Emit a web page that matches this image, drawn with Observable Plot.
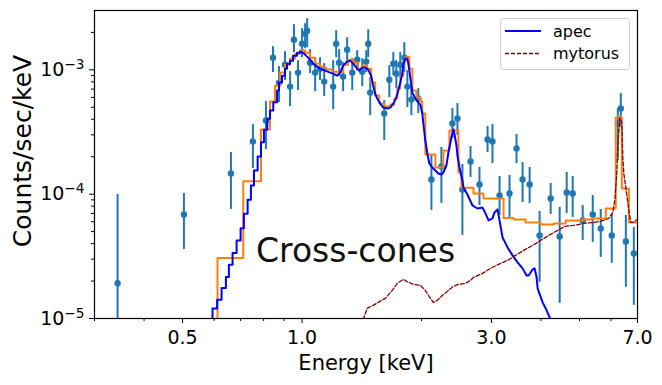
<!DOCTYPE html>
<html><head><meta charset="utf-8">
<script src="https://cdn.jsdelivr.net/npm/d3@7"></script>
<script src="https://cdn.jsdelivr.net/npm/@observablehq/plot@0.6"></script>
<style>
body{margin:0;background:#fff;}
#wrap{position:relative;width:662px;height:385px;}
</style></head>
<body><div id="wrap"></div>
<script>
// ---- data points with error bars (Energy keV, counts/sec/keV) ----
const dataE = [0.343,0.504,0.662,0.752,0.811,0.845,0.875,0.906,0.933,0.954,0.977,1.000,1.018,1.030,1.048,1.079,1.110,1.137,1.198,1.219,1.240,1.269,1.299,1.338,1.377,1.418,1.451,1.468,1.485,1.611,1.659,1.698,1.728,1.768,1.810,1.842,1.885,1.963,2.118,2.244,2.392,2.463,2.535,2.657,2.799,2.933,3.018,3.145,3.332,3.470,3.594,3.744,3.967,4.230,4.457,4.642,4.806,5.094,5.399,5.656,6.030,6.245,6.353,6.543,6.853];
const dataV = [1.92e-5,6.87e-5,1.466e-4,2.65e-4,3.91e-4,1.253e-3,7.89e-4,1.101e-3,7.33e-4,1.748e-3,9.50e-4,1.623e-3,1.954e-3,2.064e-3,1.142e-3,9.50e-4,1.022e-3,8.04e-4,7.33e-4,1.623e-3,1.142e-3,8.82e-4,1.453e-3,9.50e-4,1.207e-3,9.67e-4,1.164e-3,1.623e-3,6.56e-4,4.45e-4,8.34e-4,1.121e-3,9.32e-4,1.101e-3,1.253e-3,7.33e-4,5.76e-4,5.87e-4,1.312e-4,1.669e-4,3.70e-4,4.06e-4,1.091e-4,1.831e-4,1.197e-4,2.75e-4,2.65e-4,9.76e-5,1.013e-4,2.33e-4,1.312e-4,1.197e-4,4.66e-5,9.24e-5,4.57e-5,1.032e-4,1.013e-4,6.15e-5,6.87e-5,5.30e-5,4.66e-5,3.70e-4,4.88e-4,4.17e-5,3.34e-5];
const dataLo = [5e-6,3.59e-5,7.54e-5,1.608e-4,2.286e-4,9.50e-4,5.45e-4,8.19e-4,5.06e-4,1.375e-3,6.81e-4,1.253e-3,1.48e-3,1.508e-3,9.32e-4,6.68e-4,8.19e-4,6.09e-4,4.79e-4,1.253e-3,8.82e-4,6.68e-4,1.121e-3,6.81e-4,9.85e-4,7.33e-4,9.50e-4,1.253e-3,4.29e-4,2.70e-4,5.98e-4,8.98e-4,7.06e-4,8.50e-4,9.50e-4,4.97e-4,4.29e-4,4.45e-4,7.40e-5,8.42e-5,2.80e-4,2.96e-4,4.66e-5,1.362e-4,8.11e-5,2.163e-4,1.764e-4,6.75e-5,6.50e-5,1.764e-4,8.58e-5,8.42e-5,1.953e-5,6.87e-5,1.325e-5,7.00e-5,6.50e-5,4.25e-5,4.09e-5,3.10e-5,2.78e-5,1.866e-4,3.43e-4,1.781e-5,1.276e-5];
const dataHi = [9.94e-5,1.013e-4,2.163e-4,3.63e-4,5.55e-4,1.536e-3,1.061e-3,1.40e-3,9.67e-4,2.307e-3,1.185e-3,2.143e-3,2.35e-3,2.578e-3,1.453e-3,1.253e-3,1.253e-3,1.121e-3,1.185e-3,2.064e-3,1.453e-3,1.142e-3,1.814e-3,1.230e-3,1.427e-3,1.230e-3,1.427e-3,2.103e-3,8.66e-4,5.66e-4,1.081e-3,1.375e-3,1.185e-3,1.375e-3,1.654e-3,9.85e-4,7.46e-4,7.06e-4,2.046e-4,2.372e-4,4.88e-4,5.35e-4,1.732e-4,2.416e-4,1.638e-4,3.50e-4,3.63e-4,1.387e-4,1.413e-4,3.02e-4,1.797e-4,1.638e-4,7.26e-5,1.219e-4,7.82e-5,1.494e-4,1.387e-4,8.11e-5,9.76e-5,7.54e-5,6.87e-5,4.88e-4,6.44e-4,6.75e-5,5.40e-5];

// ---- apec model (blue) ----
const apecE = [0.5812,0.5949,0.6110,0.6270,0.6429,0.6542,0.6683,0.6841,0.7002,0.7137,0.7293,0.7434,0.7565,0.7729,0.7880,0.8017,0.8173,0.8302,0.8463,0.8649,0.8748,0.8902,0.9059,0.9165,0.9326,0.9490,0.9714,0.9884,1.0058,1.0235,1.0416,1.0661,1.0912,1.1104,1.1432,1.1769,1.1977,1.2259,1.2474,1.2691,1.2990,1.3219,1.3452,1.3762,1.3922,1.4168,1.4419,1.4674,1.4930,1.5107,1.5282,1.5463,1.5740,1.6016,1.6393,1.6683,1.6977,1.7277,1.7477,1.7684,1.7889,1.7996,1.8204,1.8419,1.8526,1.8740,1.8962,1.9297,1.9634,1.9861,2.0091,2.0211,2.0444,2.0686,2.0925,2.1295,2.1671,2.2049,2.2439,2.2704,2.3101,2.3373,2.3786,2.4064,2.4203,2.4489,2.4630,2.4921,2.5350,2.5501,2.6102,2.6870,2.7662,2.8478,2.8981,2.9493,3.0185,3.0535,3.1075,3.1442,3.1997,3.2940,3.3910,3.4910,3.5946,3.6794,3.7219,3.8094,3.8544,3.8990,3.9215,4.0370,4.1320,4.2045,4.2787];
const apecV = [8.04e-6,1.201e-5,1.418e-5,1.758e-5,2.154e-5,2.71e-5,3.357e-5,4.246e-5,5.33e-5,6.96e-5,9.02e-5,1.174e-4,1.550e-4,2.009e-4,2.616e-4,3.291e-4,4.034e-4,4.703e-4,5.48e-4,6.81e-4,7.89e-4,8.98e-4,1.022e-3,1.121e-3,1.185e-3,1.300e-3,1.375e-3,1.400e-3,1.375e-3,1.300e-3,1.230e-3,1.121e-3,1.061e-3,1.022e-3,9.85e-4,9.50e-4,9.32e-4,8.98e-4,9.50e-4,1.081e-3,1.164e-3,1.185e-3,1.121e-3,1.022e-3,9.85e-4,1.042e-3,1.042e-3,1.004e-3,8.98e-4,7.46e-4,6.44e-4,5.87e-4,5.35e-4,4.97e-4,4.88e-4,4.97e-4,5.35e-4,5.98e-4,6.81e-4,7.89e-4,9.32e-4,1.121e-3,1.230e-3,1.230e-3,1.121e-3,8.66e-4,6.56e-4,5.87e-4,5.45e-4,5.25e-4,4.45e-4,3.70e-4,2.70e-4,2.123e-4,1.764e-4,1.638e-4,1.550e-4,1.466e-4,1.439e-4,1.494e-4,1.700e-4,2.163e-4,2.853e-4,3.309e-4,3.073e-4,2.461e-4,2.046e-4,1.638e-4,1.288e-4,1.132e-4,9.94e-5,8.11e-5,7.67e-5,7.82e-5,7.00e-5,6.15e-5,6.38e-5,7.13e-5,7.54e-5,6.15e-5,4.49e-5,3.73e-5,3.218e-5,2.828e-5,2.53e-5,2.22e-5,2.22e-5,2.48e-5,2.53e-5,2.14e-5,1.748e-5,1.349e-5,1.164e-5,1.022e-5,8.82e-6];

// ---- total model (orange step) ----
const totalE = [0.5526,0.6124,0.7109,0.7880,0.8302,0.8546,0.8800,0.9059,0.9326,0.9601,0.9884,1.0176,1.0476,1.0785,1.1104,1.1497,1.1906,1.2330,1.2691,1.3066,1.3452,1.3843,1.4168,1.4589,1.4930,1.5282,1.5643,1.6111,1.6683,1.7076,1.7378,1.7684,1.7996,1.8311,1.8632,1.8962,1.9408,1.9861,2.0091,2.0444,2.1671,2.2704,2.3510,2.4775,2.5203,2.7027,2.8645,3.2183,3.4105,3.6575,3.9900,4.3036,4.6151,5.0940,5.3990,5.8235,6.1714,6.3912,6.6575,7.137];
const totalV = [6.68e-6,3.07e-5,1.272e-4,3.309e-4,5.55e-4,7.46e-4,9.50e-4,1.101e-3,1.230e-3,1.349e-3,1.427e-3,1.375e-3,1.253e-3,1.121e-3,1.042e-3,1.004e-3,9.67e-4,9.50e-4,1.101e-3,1.207e-3,1.142e-3,1.022e-3,1.081e-3,1.022e-3,7.89e-4,6.21e-4,5.35e-4,5.06e-4,5.25e-4,5.87e-4,7.06e-4,8.98e-4,1.185e-3,1.276e-3,1.022e-3,6.81e-4,5.98e-4,5.55e-4,4.45e-4,2.084e-4,1.638e-4,2.244e-4,3.25e-4,1.494e-4,1.125e-4,1.013e-4,9.24e-5,6.44e-5,6.26e-5,5.92e-5,5.71e-5,5.82e-5,6.15e-5,6.26e-5,6.38e-5,7.67e-5,4.13e-4,1.111e-4,5.92e-5,5.92e-5];

// ---- mytorus model (dark red dashed) ----
const mytE = [1.4093,1.4589,1.5107,1.5558,1.6205,1.6880,1.7378,1.7996,1.8526,1.9074,1.9861,2.0444,2.1046,2.1420,2.1923,2.2570,2.3234,2.4064,2.4775,2.5801,2.6568,2.7027,2.8478,2.9836,3.1258,3.2940,3.4509,3.6155,3.8094,3.9900,4.1800,4.4050,4.5883,4.8343,5.1237,5.4305,5.7555,5.9252,6.0646,6.1360,6.2078,6.2442,6.3173,6.3912,6.4286,6.4661,6.5421,6.6575,6.7357,6.8545,7.0156,7.137];
const mytV = [8.82e-6,1.208e-5,1.276e-5,1.349e-5,1.453e-5,1.684e-5,1.917e-5,2.065e-5,1.953e-5,1.882e-5,1.848e-5,1.684e-5,1.453e-5,1.349e-5,1.400e-5,1.536e-5,1.654e-5,1.814e-5,1.882e-5,1.917e-5,2.027e-5,2.14e-5,2.307e-5,2.53e-5,2.725e-5,2.935e-5,3.218e-5,3.53e-5,3.87e-5,4.246e-5,4.66e-5,5.11e-5,5.50e-5,5.61e-5,5.82e-5,5.92e-5,6.15e-5,6.38e-5,7.13e-5,8.90e-5,1.466e-4,2.372e-4,4.13e-4,3.77e-4,1.972e-4,1.466e-4,1.125e-4,7.40e-5,5.92e-5,5.92e-5,6.38e-5,6.62e-5];

// ---- ticks & labels ----
const xTicks = [0.5, 1.0, 3.0, 7.0];
const xTickLabels = ["0.5", "1.0", "3.0", "7.0"];
const xMinor = [0.3, 0.4, 0.6, 0.7, 0.8, 0.9, 2, 4, 5, 6];
const yTicks = [1e-5, 1e-4, 1e-3];
const yTickBase = "10";
const yTickExp = ["\u22125", "\u22124", "\u22123"];
const yMinor = [2e-5,3e-5,4e-5,5e-5,6e-5,7e-5,8e-5,9e-5,2e-4,3e-4,4e-4,5e-4,6e-4,7e-4,8e-4,9e-4,2e-3];
const xLabel = "Energy [keV]";
const yLabel = "Counts/sec/keV";
const legendLabels = ["apec", "mytorus"];
const annotation = [{E: 1.364, V: 3.465e-5, text: "Cross-cones"}];

const points = dataE.map((E, i) => ({E, V: dataV[i], lo: dataLo[i], hi: dataHi[i]}));
const apec = apecE.map((E, i) => ({E, V: apecV[i]}));
const apecLow = apec.filter(d => d.E <= 0.99);
const apecHigh = apec.filter(d => d.E >= 0.98);
const total = totalE.map((E, i) => ({E, V: totalV[i]}));
const myt = mytE.map((E, i) => ({E, V: mytV[i]}));

const FONT = "DejaVu Sans";
const chart = Plot.plot({
  width: 662, height: 385,
  marginLeft: 94, marginRight: 25, marginTop: 10, marginBottom: 67,
  style: {fontFamily: FONT, fontSize: "19px", color: "black", background: "white", overflow: "visible"},
  x: {type: "log", domain: [0.3, 7]},
  y: {type: "log", domain: [1e-5, 3e-3]},
  marks: [
    Plot.ruleX(points, {x: "E", y1: "lo", y2: "hi", stroke: "#1f77b4", strokeWidth: 2, clip: true}),
    Plot.dot(points, {x: "E", y: "V", r: 3.2, fill: "#1f77b4", stroke: "none", clip: true}),
    Plot.line(total, {x: "E", y: "V", curve: "step-after", stroke: "#ff7f0e", strokeWidth: 2, clip: true}),
    Plot.line(apecLow, {x: "E", y: "V", curve: "step-after", stroke: "blue", strokeWidth: 2, clip: true}),
    Plot.line(apecHigh, {x: "E", y: "V", stroke: "blue", strokeWidth: 2, clip: true}),
    Plot.line(myt, {x: "E", y: "V", stroke: "#8b0000", strokeWidth: 1.3, strokeDasharray: "4,2", clip: true}),
    Plot.text(annotation, {x: "E", y: "V", text: "text", fontSize: 33, fill: "#111", textAnchor: "middle", lineAnchor: "middle"}),
    Plot.axisX({ticks: xTicks, tickSize: 5, tickPadding: 7, tickFormat: d => xTickLabels[xTicks.indexOf(d)], label: null, fontSize: 19}),
    Plot.axisX({ticks: xMinor, tickSize: 3, tickFormat: () => "", label: null}),
    Plot.axisY({ticks: yTicks, tickSize: 5, tickPadding: 5, tickFormat: d => yTickBase + yTickExp[yTicks.indexOf(d)], label: null, fontSize: 19}),
    Plot.axisY({ticks: yMinor, tickSize: 3, tickFormat: () => "", label: null}),
    Plot.frame({stroke: "black", strokeWidth: 1.2})
  ]
});

const svg = d3.select(chart);
// superscript exponents on the y tick labels (mathtext-like)
svg.selectAll("text").each(function() {
  const t = this.textContent;
  const k = yTickExp.findIndex(e => t === yTickBase + e);
  if (k < 0) return;
  const sel = d3.select(this);
  sel.text(null);
  sel.append("tspan").text(yTickBase);
  sel.append("tspan").attr("dy", "-0.5em").attr("font-size", "0.72em").text(yTickExp[k]);
});

svg.append("text").attr("x", 366).attr("y", 370).attr("text-anchor", "middle")
  .attr("font-family", FONT).attr("font-size", 21).attr("fill", "black").text(xLabel);
svg.append("text").attr("transform", "translate(31,151) rotate(-90)").attr("text-anchor", "middle")
  .attr("font-family", FONT).attr("font-size", 25).attr("fill", "black").text(yLabel);

// legend inside the axes (upper right)
const lg = svg.append("g");
lg.append("rect").attr("x", 500.5).attr("y", 18.5).attr("width", 129).attr("height", 51).attr("rx", 3)
  .attr("fill", "white").attr("fill-opacity", 0.8).attr("stroke", "#cccccc");
const legendStyles = [{stroke: "blue", w: 2, dash: null}, {stroke: "#8b0000", w: 1.3, dash: "4,2"}];
legendLabels.forEach((lab, i) => {
  const yy = 31 + i * 22.5;
  const ln = lg.append("line").attr("x1", 505).attr("x2", 541).attr("y1", yy).attr("y2", yy)
    .attr("stroke", legendStyles[i].stroke).attr("stroke-width", legendStyles[i].w);
  if (legendStyles[i].dash) ln.attr("stroke-dasharray", legendStyles[i].dash);
  lg.append("text").attr("x", 553).attr("y", yy + 5.5).attr("text-anchor", "start")
    .attr("font-family", FONT).attr("font-size", 16).attr("fill", "black").text(lab);
});

document.getElementById("wrap").appendChild(chart);
</script></body></html>
